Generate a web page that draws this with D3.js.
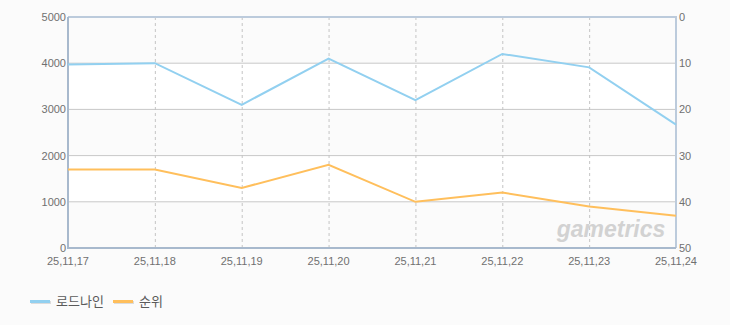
<!DOCTYPE html>
<html>
<head>
<meta charset="utf-8">
<script src="https://cdn.jsdelivr.net/npm/d3@7"></script>
<style>
  body { margin: 0; background: #fbfbfb; }
  svg { display: block; font-family: "Liberation Sans", Arial, sans-serif; }
</style>
</head>
<body>
<svg id="chart" width="730" height="325"></svg>
<script>
const dates = ["25,11,17", "25,11,18", "25,11,19", "25,11,20", "25,11,21", "25,11,22", "25,11,23", "25,11,24"];
const loadnine = [3970, 4000, 3100, 4100, 3200, 4200, 3910, 2670];
const rank = [33, 33, 37, 32, 40, 38, 41, 43];
const leftTicks = [0, 1000, 2000, 3000, 4000, 5000];
const rightTicks = [0, 10, 20, 30, 40, 50];
const seriesNames = ["로드나인", "순위"];
const colors = ["#92d0f0", "#ffbf5c"];

const svg = d3.select("#chart");
const m = {left: 68, right: 676, top: 17, bottom: 248};

const x = d3.scalePoint().domain(dates).range([m.left, m.right]);
const yL = d3.scaleLinear().domain([0, 5000]).range([m.bottom, m.top]);
const yR = d3.scaleLinear().domain([0, 50]).range([m.top, m.bottom]);

// alternating bands
const bands = d3.range(0, 5000, 1000);
svg.selectAll("rect.band")
  .data(bands)
  .join("rect")
  .attr("x", m.left).attr("width", m.right - m.left)
  .attr("y", d => yL(d + 1000)).attr("height", d => yL(d) - yL(d + 1000))
  .attr("fill", (d, i) => i % 2 == 0 ? "#fbfbfb" : "#ffffff");

// grid
svg.selectAll("line.hg")
  .data(leftTicks.slice(1, -1))
  .join("line")
  .attr("x1", m.left).attr("x2", m.right)
  .attr("y1", d => yL(d)).attr("y2", d => yL(d))
  .attr("stroke", "#c8c8c8");

svg.selectAll("line.vg")
  .data(dates.slice(1, -1))
  .join("line")
  .attr("x1", d => x(d) + 0.5).attr("x2", d => x(d) + 0.5)
  .attr("y1", m.top).attr("y2", m.bottom)
  .attr("stroke", "#c4c4c4")
  .attr("stroke-dasharray", "3,3");

// frame
svg.append("path")
  .attr("d", `M${m.left},${m.top}H${m.right}V${m.bottom}`)
  .attr("fill", "none").attr("stroke", "#bccbdc").attr("stroke-width", 2);
svg.append("path")
  .attr("d", `M${m.left},${m.top}V${m.bottom}H${m.right}`)
  .attr("fill", "none").attr("stroke", "#a8b9cd").attr("stroke-width", 2);

// axes labels
const tickStyle = sel => sel.attr("font-size", 11).attr("fill", "#707070");
svg.selectAll("text.yl")
  .data(leftTicks)
  .join("text")
  .attr("x", m.left - 2).attr("y", d => yL(d) + 4)
  .attr("text-anchor", "end").text(d => d).call(tickStyle);

svg.selectAll("text.yr")
  .data(rightTicks)
  .join("text")
  .attr("x", m.right + 3).attr("y", d => yR(d) + 4)
  .attr("text-anchor", "start").text(d => d).call(tickStyle);

svg.selectAll("text.xl")
  .data(dates)
  .join("text")
  .attr("x", d => x(d)).attr("y", m.bottom + 17)
  .attr("text-anchor", "middle").text(d => d).call(tickStyle);

// watermark
svg.append("text")
  .attr("x", 611).attr("y", 237)
  .attr("text-anchor", "middle")
  .attr("font-size", 23).attr("font-style", "italic").attr("font-weight", "bold")
  .attr("fill", "#d2d2d2")
  .text("gametrics");

// lines
const line1 = d3.line().x((d, i) => x(dates[i])).y(d => yL(d));
const line2 = d3.line().x((d, i) => x(dates[i])).y(d => yR(d));

svg.append("path").datum(loadnine)
  .attr("d", line1).attr("fill", "none")
  .attr("stroke", colors[0]).attr("stroke-width", 2);
svg.append("path").datum(rank)
  .attr("d", line2).attr("fill", "none")
  .attr("stroke", colors[1]).attr("stroke-width", 2);

// legend
const lg = svg.selectAll("g.lg")
  .data(seriesNames)
  .join("g")
  .attr("transform", (d, i) => `translate(${30 + i * 83},301)`);
lg.append("rect").attr("x", 1).attr("y", 0).attr("width", 20).attr("height", 3).attr("fill", "#dcdcdc");
lg.append("rect").attr("x", 0).attr("y", -1).attr("width", 20).attr("height", 3).attr("fill", (d, i) => colors[i]);
lg.append("text").attr("x", 26).attr("y", 5)
  .attr("font-size", 13).attr("fill", "#5a5a5a")
  .attr("font-family", "'Noto Sans CJK KR', sans-serif")
  .text(d => d);
</script>
</body>
</html>
